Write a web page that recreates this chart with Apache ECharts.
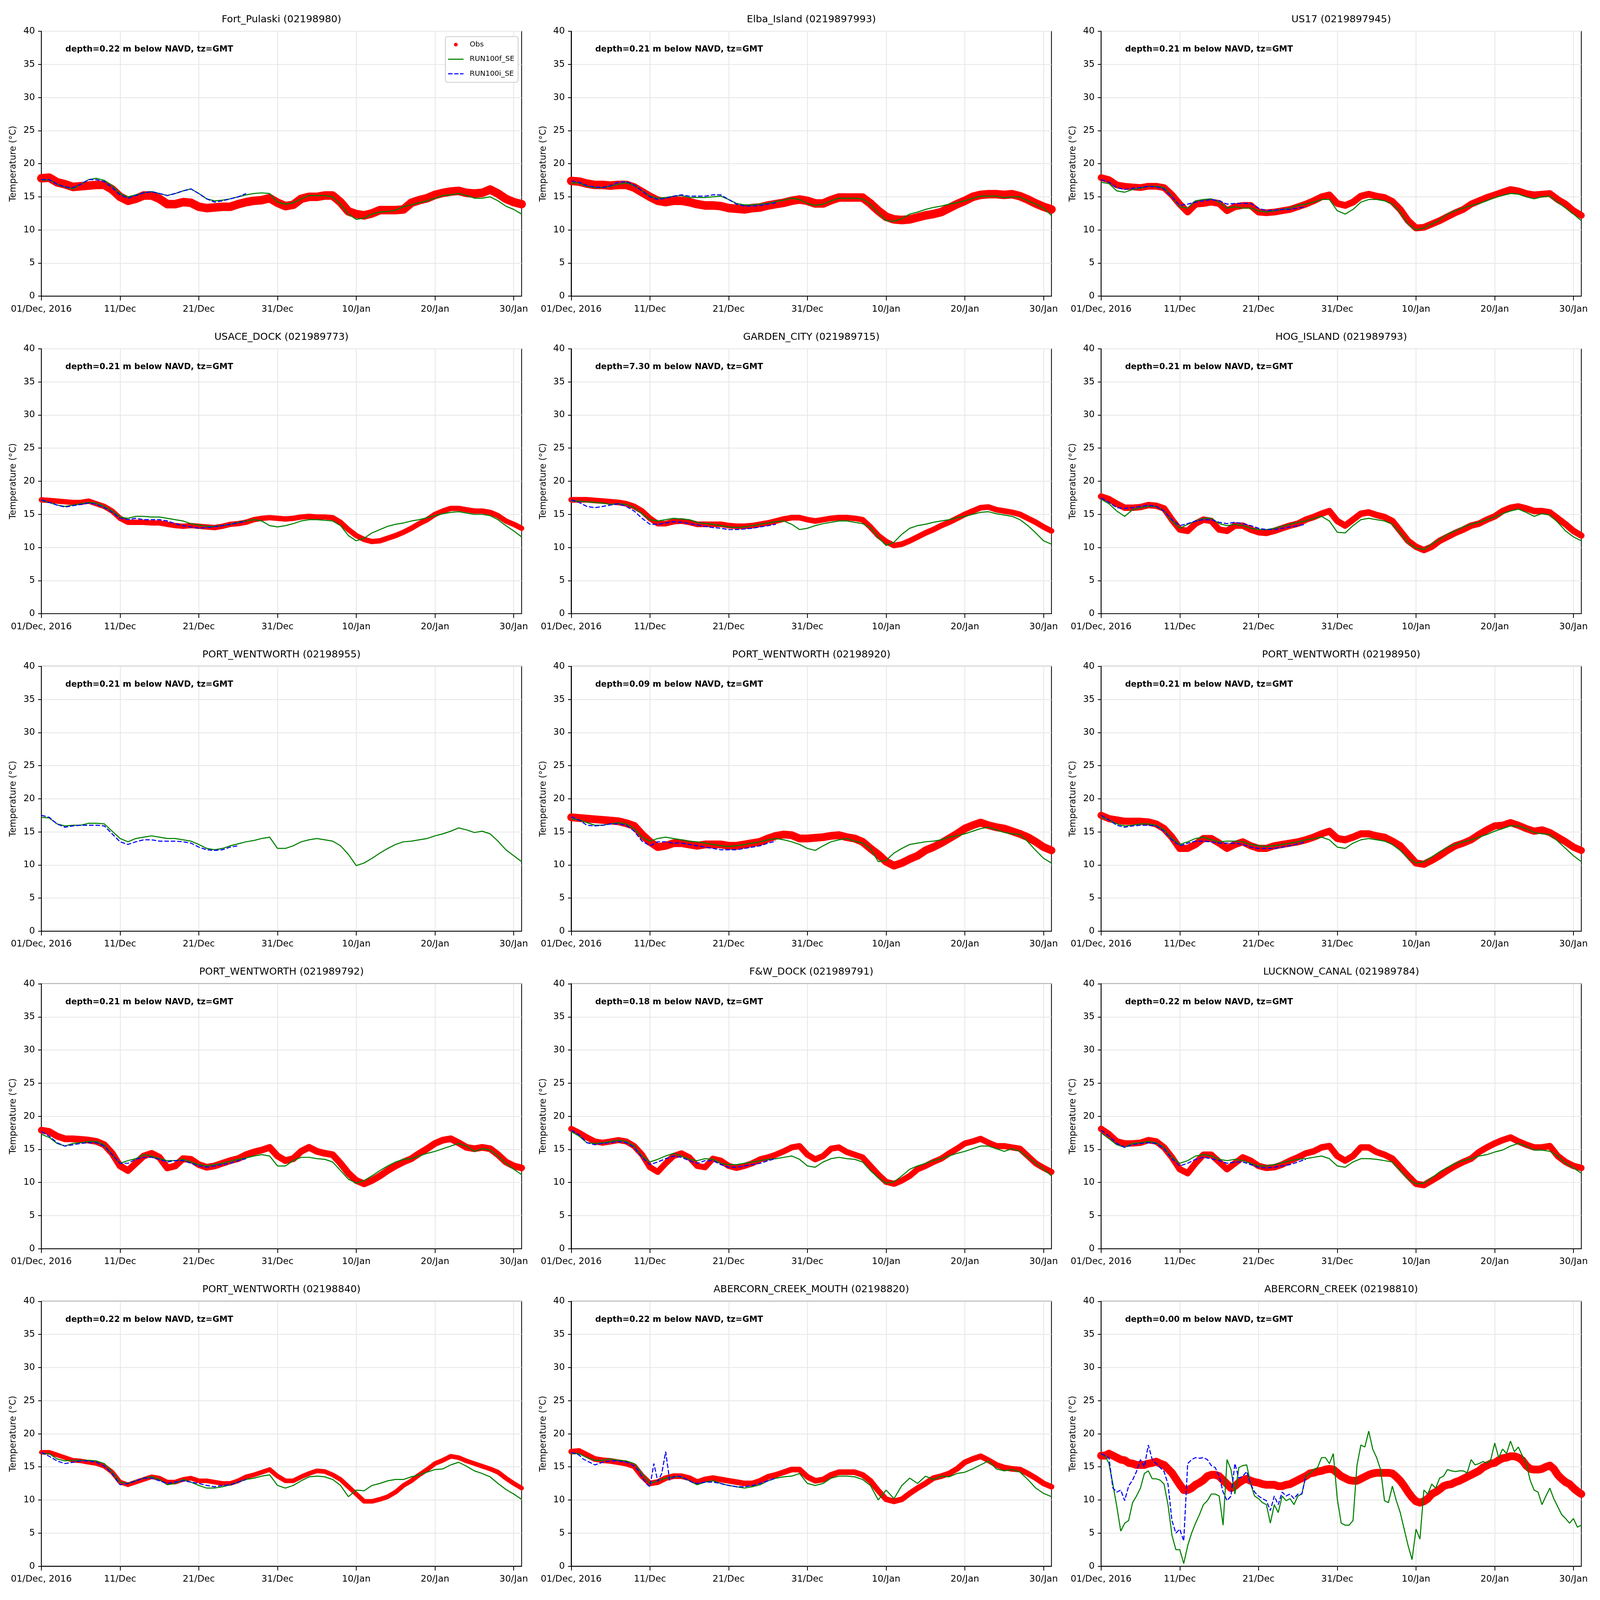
<!DOCTYPE html>
<html><head><meta charset="utf-8">
<script src="https://cdn.jsdelivr.net/npm/echarts@6/dist/echarts.min.js"></script>
<style>html,body{margin:0;padding:0;background:#fff;overflow:hidden}#chart{width:100vw;height:100vh}</style>
</head><body><div id="chart"></div>
<script>
// ---------- axis ticks / labels ----------
const xTickDays = [0, 10, 20, 30, 40, 50, 60];
const xTickLabels = ['01/Dec, 2016', '11/Dec', '21/Dec', '31/Dec', '10/Jan', '20/Jan', '30/Jan'];
const seriesNames = ['Obs', 'RUN100f_SE', 'RUN100i_SE'];

const panelTitles = [
  'Fort_Pulaski (02198980)', 'Elba_Island (0219897993)', 'US17 (0219897945)',
  'USACE_DOCK (021989773)', 'GARDEN_CITY (021989715)', 'HOG_ISLAND (021989793)',
  'PORT_WENTWORTH (02198955)', 'PORT_WENTWORTH (02198920)', 'PORT_WENTWORTH (02198950)',
  'PORT_WENTWORTH (021989792)', 'F&W_DOCK (021989791)', 'LUCKNOW_CANAL (021989784)',
  'PORT_WENTWORTH (02198840)', 'ABERCORN_CREEK_MOUTH (02198820)', 'ABERCORN_CREEK (02198810)'
];
const depthLabels = ['0.22','0.21','0.21','0.21','7.30','0.21','0.21','0.09','0.21','0.21','0.18','0.22','0.22','0.22','0.00'];

// ---------- data (temperature, deg C); daily samples from 01/Dec 00:00 unless noted ----------
const p01_obs = [17.8,17.9,17.2,16.9,16.5,16.6,16.7,16.8,16.8,16.1,15.0,14.4,14.7,15.2,15.2,14.7,13.9,13.9,14.2,14.1,13.5,13.3,13.4,13.5,13.5,13.9,14.2,14.4,14.5,14.8,14.1,13.6,13.8,14.7,15.0,15.0,15.2,15.2,14.2,12.8,12.4,12.2,12.5,13.0,13.0,13.0,13.1,14.1,14.5,14.8,15.3,15.6,15.8,15.9,15.6,15.5,15.6,16.1,15.5,14.7,14.2,13.9];
const p01_f = [17.5,17.6,16.9,16.5,16.2,16.9,17.6,17.8,17.5,16.7,15.5,15.0,15.3,15.6,15.8,15.5,15.2,15.5,15.9,16.2,15.5,14.7,14.4,14.5,14.7,15.0,15.3,15.5,15.6,15.5,14.2,13.9,14.1,14.7,15.2,15.2,15.2,15.0,13.9,12.4,11.6,11.8,12.4,12.7,12.8,13.0,13.5,13.8,14.1,14.4,14.8,15.2,15.3,15.5,15.2,14.8,14.8,15.0,14.4,13.6,13.1,12.4];
const p01_i = [17.6,17.6,16.9,16.5,16.4,16.9,17.6,17.6,17.3,16.4,15.3,14.8,15.2,15.6,15.8,15.5,15.2,15.5,15.9,16.2,15.5,14.7,14.2,14.4,14.7,15.0,15.5];

const p02_obs = [17.4,17.3,17.0,16.8,16.8,16.7,16.8,16.8,16.4,15.7,15.0,14.4,14.2,14.4,14.4,14.2,13.9,13.7,13.7,13.6,13.3,13.2,13.1,13.3,13.4,13.7,13.9,14.1,14.4,14.6,14.4,14.0,14.0,14.5,14.9,14.9,14.9,14.9,14.0,12.9,12.0,11.6,11.5,11.6,11.9,12.2,12.4,12.7,13.3,13.9,14.4,15.0,15.3,15.4,15.4,15.3,15.4,15.1,14.6,14.0,13.5,13.1];
const p02_f = [17.1,17.1,16.6,16.4,16.4,16.6,16.9,17.1,16.7,15.9,15.1,14.8,14.9,15.1,15.2,14.9,14.9,14.9,15.0,15.1,14.6,14.0,13.8,13.8,13.9,14.0,14.3,14.5,14.8,14.6,14.0,13.7,13.9,14.4,14.8,14.8,14.8,14.7,13.9,12.6,11.4,11.3,11.7,12.4,12.7,13.1,13.4,13.6,13.9,14.1,14.4,14.8,15.1,15.1,15.1,14.9,15.0,15.0,14.4,13.9,13.3,12.2];
const p02_i = [17.4,17.2,16.7,16.5,16.4,16.7,17.2,17.3,16.8,15.9,15.0,14.6,14.8,15.1,15.3,15.1,15.1,15.1,15.3,15.3,14.6,13.9,13.6,13.6,13.7,13.9,14.1];

const p03_obs = [17.9,17.6,16.8,16.6,16.5,16.4,16.6,16.6,16.4,15.3,13.9,12.7,13.9,14.0,14.2,14.0,12.9,13.5,13.7,13.7,12.7,12.6,12.7,12.9,13.1,13.5,13.9,14.4,15.0,15.3,14.0,13.7,14.2,15.1,15.4,15.1,14.9,14.3,13.1,11.4,10.3,10.4,10.9,11.4,12.0,12.6,13.1,13.9,14.4,14.9,15.3,15.7,16.1,15.9,15.5,15.3,15.4,15.5,14.6,13.9,12.9,12.2];
const p03_f = [17.2,17.0,15.9,15.7,16.1,16.3,16.6,16.6,16.4,15.1,13.5,13.3,14.4,14.6,14.7,14.2,13.3,13.5,13.3,13.3,12.9,12.7,12.9,13.1,13.3,13.7,13.9,14.2,14.6,14.6,12.9,12.4,13.1,14.2,14.6,14.6,14.4,13.9,12.7,10.9,10.0,10.3,10.9,11.5,12.4,12.9,13.3,13.7,14.0,14.4,14.9,15.2,15.5,15.4,15.0,14.7,15.0,15.1,14.2,13.3,12.4,11.4];
const p03_i = [17.6,17.2,16.4,16.1,16.3,16.4,16.6,16.5,16.2,15.0,13.7,13.9,14.2,14.4,14.6,14.4,13.9,14.0,14.0,14.0,13.3,12.9,13.0,13.1,13.1,13.3,13.5];

const p04_obs = [17.2,17.1,17.0,16.9,16.8,16.8,17.0,16.6,16.2,15.5,14.4,13.8,13.8,13.8,13.7,13.7,13.5,13.3,13.2,13.3,13.2,13.1,13.0,13.2,13.5,13.6,13.8,14.2,14.4,14.5,14.4,14.3,14.4,14.6,14.7,14.6,14.6,14.5,13.8,12.7,11.8,11.2,10.9,11.0,11.4,11.8,12.3,12.9,13.6,14.2,15.0,15.5,15.9,15.9,15.7,15.5,15.5,15.3,14.8,14.0,13.5,12.9];
const p04_f = [17.1,16.8,16.4,16.2,16.4,16.6,16.8,16.7,16.2,15.5,14.6,14.4,14.7,14.7,14.6,14.6,14.4,14.2,14.0,13.6,13.4,13.2,13.2,13.3,13.5,13.8,14.0,14.2,14.0,13.3,13.1,13.3,13.6,14.0,14.2,14.2,14.1,14.0,13.3,11.8,11.0,11.4,12.2,12.7,13.2,13.5,13.7,14.0,14.2,14.5,14.8,15.1,15.3,15.4,15.2,15.0,15.0,14.8,14.2,13.3,12.5,11.6];
const p04_i = [17.2,16.8,16.4,16.1,16.3,16.5,16.7,16.5,16.0,15.3,14.4,14.2,14.4,14.2,14.2,14.2,14.0,13.6,13.3,13.1,12.9,13.0,13.1,13.3,13.5,13.7,14.0];

const p05_obs = [17.2,17.2,17.2,17.1,17.0,16.9,16.8,16.6,16.2,15.5,14.4,13.6,13.6,13.9,14.0,13.8,13.5,13.5,13.5,13.5,13.3,13.2,13.2,13.3,13.5,13.7,14.0,14.3,14.5,14.5,14.2,14.0,14.2,14.4,14.5,14.5,14.4,14.2,13.1,11.8,10.9,10.3,10.5,11.0,11.6,12.2,12.7,13.3,13.8,14.4,15.0,15.5,16.0,16.1,15.7,15.5,15.3,15.0,14.4,13.8,13.1,12.5];
const p05_f = [17.0,17.0,16.9,16.8,16.7,16.5,16.6,16.5,16.0,15.1,14.2,14.0,14.2,14.4,14.3,14.2,13.8,13.6,13.5,13.3,13.1,13.0,13.1,13.3,13.5,13.7,13.9,14.0,13.5,12.7,12.9,13.3,13.6,13.8,14.0,14.0,13.8,13.6,13.0,11.5,10.3,10.8,12.0,12.9,13.3,13.5,13.8,14.0,14.2,14.5,14.7,15.0,15.3,15.4,15.1,14.9,14.7,14.2,13.3,12.2,11.0,10.5];
const p05_i = [17.2,16.8,16.2,16.0,16.2,16.4,16.6,16.2,15.5,14.4,13.5,13.5,13.7,13.9,13.8,13.6,13.4,13.2,13.0,12.9,12.7,12.7,12.8,12.9,13.1,13.3,13.5];

const p06_obs = [17.7,17.3,16.6,16.0,16.0,16.1,16.4,16.3,15.9,14.2,12.7,12.5,13.6,14.2,14.0,12.7,12.5,13.3,13.3,12.7,12.3,12.2,12.5,12.9,13.3,13.6,14.2,14.6,15.1,15.5,14.0,13.3,14.2,15.1,15.3,14.9,14.6,14.0,12.5,11.0,10.1,9.6,10.1,11.0,11.6,12.2,12.7,13.3,13.6,14.2,14.7,15.5,16.0,16.2,15.9,15.5,15.5,15.3,14.4,13.5,12.5,11.8];
const p06_f = [17.3,16.6,15.5,14.7,15.7,16.0,16.2,16.2,15.5,14.0,12.9,13.5,14.0,14.4,14.4,13.6,13.3,13.5,13.3,12.9,12.7,12.7,12.9,13.2,13.5,13.8,14.0,14.4,14.7,14.0,12.3,12.2,13.3,14.2,14.4,14.2,14.0,13.5,12.2,10.7,9.9,9.7,10.5,11.2,12.0,12.5,13.1,13.5,13.8,14.2,14.6,15.1,15.5,15.8,15.3,14.7,15.1,14.9,13.8,12.5,11.6,11.0];
const p06_i = [17.5,16.8,16.0,15.9,16.0,16.2,16.4,16.2,15.5,14.2,13.3,13.6,14.0,14.2,14.2,13.8,13.6,13.8,13.6,13.3,12.9,12.7,12.7,12.9,13.1,13.3,13.5];

const p07_obs = null; // no observations at this station
const p07_f = [17.2,17.1,16.2,15.9,16.0,16.0,16.3,16.3,16.2,15.1,14.0,13.5,14.0,14.2,14.4,14.2,14.0,14.0,13.8,13.6,13.1,12.5,12.3,12.5,12.9,13.2,13.5,13.7,14.0,14.2,12.5,12.5,12.9,13.5,13.8,14.0,13.8,13.6,12.9,11.6,9.9,10.3,11.0,11.8,12.5,13.1,13.5,13.6,13.8,14.0,14.4,14.7,15.1,15.6,15.3,14.9,15.1,14.7,13.6,12.3,11.4,10.5];
const p07_i = [17.5,17.2,16.2,15.7,15.9,16.0,16.0,16.0,15.9,14.7,13.5,13.1,13.5,13.8,13.8,13.6,13.6,13.6,13.5,13.3,12.7,12.3,12.2,12.3,12.7,12.9];

const p08_obs = [17.2,17.1,17.0,16.9,16.8,16.7,16.6,16.3,15.9,14.6,13.5,12.7,12.9,13.3,13.3,13.1,12.9,13.1,13.1,13.1,12.9,12.9,13.1,13.3,13.5,14.0,14.4,14.6,14.5,14.0,14.0,14.1,14.2,14.4,14.5,14.2,14.0,13.5,12.5,11.6,10.5,9.9,10.3,10.9,11.4,12.2,12.7,13.3,14.0,14.7,15.5,16.0,16.4,16.0,15.7,15.5,15.1,14.7,14.2,13.5,12.7,12.2];
const p08_f = [17.0,16.8,16.4,16.0,16.0,16.2,16.4,16.2,15.5,14.2,13.6,14.0,14.2,14.0,13.8,13.6,13.5,13.3,13.1,12.9,12.8,12.9,13.1,13.3,13.5,13.8,14.0,13.8,13.5,13.1,12.5,12.2,12.9,13.5,13.8,14.0,13.6,13.3,12.5,10.5,10.7,11.8,12.5,13.1,13.3,13.5,13.6,13.8,14.2,14.4,14.7,15.1,15.5,15.7,15.3,14.9,14.7,14.6,13.5,12.2,11.0,10.3];
const p08_i = [17.3,16.8,16.0,15.9,16.0,16.2,16.2,16.0,15.1,13.6,12.9,13.5,13.5,13.3,13.3,13.1,12.9,12.7,12.5,12.3,12.3,12.3,12.5,12.7,12.9,13.3,13.6];

const p09_obs = [17.5,17.0,16.8,16.6,16.6,16.6,16.5,16.2,15.5,14.2,12.5,12.5,13.1,14.0,14.0,13.3,12.5,13.1,13.5,12.9,12.5,12.5,12.9,13.1,13.3,13.5,13.8,14.2,14.7,15.1,14.0,13.8,14.2,14.7,14.7,14.4,14.2,13.6,12.9,11.6,10.3,10.1,10.7,11.4,12.2,12.9,13.3,13.8,14.6,15.3,15.9,16.0,16.4,16.0,15.5,15.1,15.3,14.9,14.2,13.5,12.7,12.2];
const p09_f = [17.2,16.8,16.2,15.9,16.0,16.2,16.2,16.0,15.3,14.0,13.1,13.5,14.0,14.2,13.8,13.5,13.6,13.6,13.5,13.1,12.9,12.8,12.9,13.1,13.3,13.5,13.8,14.0,14.2,13.8,12.7,12.5,13.3,13.8,14.0,13.8,13.6,13.1,12.2,11.0,10.3,10.5,11.2,12.0,12.7,13.1,13.5,13.8,14.2,14.6,15.1,15.5,15.9,15.9,15.5,14.9,14.7,14.6,13.6,12.5,11.4,10.5];
const p09_i = [17.5,16.8,16.0,15.7,15.9,16.0,16.0,15.9,15.1,13.8,12.9,13.3,13.6,13.6,13.5,13.3,13.3,13.3,13.1,12.7,12.5,12.5,12.5,12.7,12.9,13.2,13.5];

const p10_obs = [17.9,17.7,17.0,16.6,16.6,16.5,16.4,16.2,15.7,14.4,12.5,11.8,12.9,14.0,14.4,13.8,12.2,12.5,13.6,13.5,12.7,12.3,12.5,12.9,13.3,13.6,14.2,14.6,14.9,15.3,14.0,13.3,13.6,14.7,15.3,14.7,14.4,14.2,12.9,11.4,10.3,9.8,10.3,11.0,11.8,12.5,13.1,13.6,14.4,15.1,15.9,16.4,16.6,16.0,15.3,15.1,15.3,15.1,14.2,13.1,12.5,12.2];
const p10_f = [17.3,16.8,15.9,15.5,15.9,16.0,16.2,16.2,15.7,14.2,12.9,13.3,13.6,14.2,14.0,13.6,13.3,13.3,13.5,13.1,12.7,12.5,12.7,12.9,13.2,13.5,13.7,14.0,14.2,14.0,12.5,12.5,13.3,13.8,13.8,13.6,13.5,13.1,11.8,10.5,9.9,10.3,11.0,11.8,12.5,13.1,13.5,13.6,14.0,14.4,14.7,15.1,15.5,15.9,15.5,14.7,15.1,14.9,14.0,12.9,12.0,11.2];
const p10_i = [17.7,17.0,16.0,15.5,15.7,15.9,16.0,16.0,15.5,14.2,12.9,12.9,13.5,13.8,13.8,13.5,13.1,13.3,13.3,12.9,12.5,12.3,12.5,12.7,12.9,13.3,13.6];

const p11_obs = [18.1,17.5,16.8,16.2,16.0,16.2,16.4,16.2,15.5,14.2,12.3,11.6,12.9,14.0,14.4,13.8,12.5,12.3,13.6,13.3,12.5,12.2,12.5,12.9,13.5,13.8,14.2,14.7,15.3,15.5,14.2,13.5,14.0,15.1,15.3,14.6,14.2,13.8,12.5,11.2,10.1,9.8,10.3,11.0,12.0,12.5,13.1,13.6,14.4,15.1,15.9,16.2,16.6,16.0,15.5,15.5,15.3,15.1,14.0,12.9,12.2,11.6];
const p11_f = [17.7,17.0,16.0,15.9,16.0,16.2,16.4,16.2,15.5,14.0,13.1,13.5,14.0,14.4,14.0,13.5,13.3,13.6,13.5,12.9,12.7,12.7,12.9,13.1,13.3,13.5,13.6,13.8,14.0,13.5,12.5,12.3,13.1,13.6,13.8,13.6,13.5,13.1,11.8,10.7,9.9,10.1,11.0,12.0,12.5,12.9,13.3,13.6,14.0,14.4,14.7,15.1,15.5,15.5,15.1,14.7,15.1,14.7,13.8,12.9,12.0,11.0];
const p11_i = [17.9,17.2,16.0,15.7,15.9,16.0,16.2,16.0,15.3,13.8,12.7,13.1,13.6,14.0,13.8,13.3,12.9,13.3,13.3,12.7,12.3,12.3,12.5,12.7,12.9,13.3,13.6];

const p12_obs = [18.1,17.3,16.2,15.9,15.9,16.0,16.4,16.2,15.3,13.8,12.0,11.4,12.9,14.2,14.2,13.1,12.0,12.9,13.8,13.3,12.5,12.2,12.3,12.7,13.3,13.8,14.4,14.7,15.3,15.5,14.0,13.3,14.0,15.3,15.3,14.6,14.2,13.6,12.3,11.0,9.8,9.6,10.3,11.0,11.8,12.5,13.1,13.6,14.6,15.3,15.9,16.4,16.8,16.2,15.7,15.3,15.3,15.5,14.0,13.1,12.5,12.2];
const p12_f = [17.5,16.6,15.7,15.3,15.9,16.0,16.2,16.0,15.3,13.8,12.9,13.3,14.0,14.2,14.0,13.5,13.3,13.5,13.3,12.9,12.5,12.5,12.7,13.0,13.3,13.5,13.6,13.8,14.0,13.6,12.5,12.3,13.1,13.6,13.6,13.5,13.3,13.1,11.8,10.5,9.8,9.9,10.7,11.6,12.3,12.9,13.3,13.6,14.0,14.2,14.6,14.9,15.5,15.9,15.5,14.9,14.9,14.7,14.0,12.9,12.2,11.4];
const p12_i = [17.9,17.0,15.9,15.3,15.7,15.9,16.0,15.9,15.1,13.6,12.5,12.9,13.5,13.8,13.6,13.3,12.9,13.1,13.1,12.7,12.3,12.2,12.3,12.5,12.7,13.1,13.5];

const p13_obs = [17.2,17.2,16.8,16.4,16.0,15.9,15.7,15.5,15.1,14.2,12.7,12.3,12.7,13.1,13.5,13.3,12.7,12.7,13.1,13.3,12.9,12.9,12.7,12.5,12.5,12.9,13.5,13.8,14.2,14.6,13.6,12.9,12.9,13.5,14.0,14.4,14.3,13.8,13.1,12.0,10.9,9.8,9.8,10.1,10.5,11.2,12.2,12.9,13.8,14.6,15.5,16.0,16.6,16.4,15.9,15.5,15.1,14.7,14.2,13.3,12.5,11.8];
const p13_f = [17.0,17.0,16.2,15.9,16.0,16.0,16.0,15.9,15.5,14.2,12.7,12.5,12.9,13.3,13.5,13.1,12.3,12.5,13.1,12.7,12.2,11.8,11.8,12.0,12.3,12.7,13.1,13.3,13.6,13.8,12.2,11.8,12.2,12.9,13.5,13.6,13.5,13.1,12.2,10.5,11.5,11.4,12.2,12.5,12.9,13.1,13.1,13.5,13.8,14.2,14.6,14.7,15.3,15.7,15.1,14.4,14.0,13.5,12.5,11.6,10.9,10.1];
const p13_i = [17.2,16.6,15.9,15.5,15.7,15.9,15.9,15.7,15.1,14.0,12.3,12.5,12.9,13.3,13.3,12.9,12.5,12.7,12.9,12.7,12.5,12.2,12.0,12.2,12.3,12.7,13.1];

const p14_obs = [17.3,17.4,16.8,16.2,16.0,15.9,15.7,15.5,15.1,13.6,12.5,12.7,13.3,13.6,13.6,13.3,12.7,13.1,13.3,13.1,12.9,12.7,12.5,12.5,12.9,13.5,13.8,14.2,14.6,14.6,13.5,12.9,13.1,13.8,14.2,14.2,14.2,13.8,12.9,11.4,10.1,9.8,10.1,11.0,11.8,12.5,13.3,13.6,14.0,14.7,15.7,16.2,16.6,16.0,15.3,14.9,14.7,14.6,14.0,13.3,12.5,12.0];
const p14_f = [17.0,17.0,16.4,16.0,16.0,16.2,16.0,15.9,15.5,14.0,12.5,12.9,13.3,13.5,13.5,12.9,12.3,12.7,12.9,12.5,12.2,12.0,11.8,12.0,12.3,12.9,13.3,13.5,13.6,14.0,12.5,12.2,12.5,13.3,13.6,13.6,13.5,13.1,12.2,10.0,11.5,10.2,12.2,13.3,12.5,13.6,13.1,13.6,13.5,14.0,14.2,14.7,15.3,15.9,14.7,14.4,14.6,14.2,13.1,11.8,11.0,10.5];
// half-day samples
const p14_i = [17.2,17.0,16.8,16.2,15.9,15.6,15.3,15.5,15.7,15.8,15.9,15.9,15.9,15.8,15.7,15.5,15.1,14.5,13.5,12.5,12.0,15.5,12.8,14.0,17.3,13.0,13.5,13.6,13.5,13.2,12.9,12.6,12.5,12.6,12.7,12.7,12.7,12.6,12.5,12.3,12.2,12.1,12.0,12.0,12.0,12.1,12.2,12.3,12.5,12.7,12.9,13.1,13.3];

// half-day samples
const p15_obs = [16.7,16.7,17.0,16.7,16.4,16.1,16.0,15.6,15.5,15.3,15.3,15.3,15.5,15.6,15.8,15.5,15.3,14.7,14.1,13.2,12.3,11.5,11.5,11.8,12.3,12.6,13.0,13.6,13.8,13.8,13.6,13.0,12.4,11.8,12.1,12.6,13.0,13.2,12.9,12.7,12.6,12.4,12.3,12.3,12.3,12.1,12.1,12.3,12.4,12.7,13.0,13.3,13.6,14.0,14.1,14.3,14.4,14.6,14.7,14.6,14.1,13.6,13.3,13.0,12.9,12.9,13.2,13.5,13.8,14.0,14.1,14.1,14.1,14.1,14.0,13.5,12.9,12.1,11.2,10.4,9.8,9.6,9.8,10.2,10.9,11.2,11.6,12.1,12.3,12.4,12.7,12.9,13.2,13.5,13.8,14.1,14.4,14.9,15.2,15.5,15.6,16.0,16.3,16.4,16.6,16.6,16.4,16.0,15.2,14.7,14.6,14.6,14.7,15.0,15.2,14.7,13.8,13.2,12.7,12.4,11.8,11.3,10.9];
const p15_f = [16.9,16.7,15.5,12.4,9.0,5.3,6.5,6.9,9.6,10.6,11.8,14.0,14.4,13.2,13.2,13.0,12.4,9.3,4.7,2.5,2.5,0.4,3.1,5.0,6.5,7.8,9.3,9.9,10.9,10.9,10.6,6.2,16.1,14.6,10.9,14.9,15.2,15.3,12.4,10.6,10.2,9.6,9.3,6.5,9.3,8.1,10.6,9.9,10.2,9.3,10.6,10.9,13.6,14.0,14.6,14.9,16.4,16.4,15.5,17.0,10.2,6.5,6.2,6.2,6.9,15.2,18.3,18.0,20.4,17.7,16.4,14.6,9.9,9.6,12.1,9.9,8.1,5.6,3.1,1.0,5.6,4.1,11.5,10.9,12.4,11.8,13.3,13.6,14.6,14.4,14.3,14.4,14.4,14.1,16.1,15.3,15.5,15.8,15.6,16.1,18.6,16.4,17.7,17.0,18.9,17.3,18.0,16.7,15.5,13.0,11.5,11.2,9.3,10.6,11.8,10.2,9.0,7.8,7.2,6.5,7.2,5.9,6.2];
const p15_i = [17.0,16.7,16.4,11.8,11.2,11.5,9.9,12.1,13.0,14.3,16.1,15.0,18.3,16.1,15.5,14.9,14.3,12.4,6.9,5.0,5.6,3.8,15.5,16.1,16.4,16.3,16.4,16.1,15.2,14.9,13.6,11.2,9.9,10.6,15.5,13.3,13.6,14.3,12.4,11.2,10.6,10.2,9.9,8.4,10.6,9.3,11.2,10.6,10.9,10.2,10.9,10.9,13.6];

// sampling step (days) per panel: [obs, RUN100f_SE, RUN100i_SE]
const panels = [
  {obs:p01_obs, f:p01_f, i:p01_i, step:[1,1,1]},
  {obs:p02_obs, f:p02_f, i:p02_i, step:[1,1,1]},
  {obs:p03_obs, f:p03_f, i:p03_i, step:[1,1,1]},
  {obs:p04_obs, f:p04_f, i:p04_i, step:[1,1,1]},
  {obs:p05_obs, f:p05_f, i:p05_i, step:[1,1,1]},
  {obs:p06_obs, f:p06_f, i:p06_i, step:[1,1,1]},
  {obs:p07_obs, f:p07_f, i:p07_i, step:[1,1,1]},
  {obs:p08_obs, f:p08_f, i:p08_i, step:[1,1,1]},
  {obs:p09_obs, f:p09_f, i:p09_i, step:[1,1,1]},
  {obs:p10_obs, f:p10_f, i:p10_i, step:[1,1,1]},
  {obs:p11_obs, f:p11_f, i:p11_i, step:[1,1,1]},
  {obs:p12_obs, f:p12_f, i:p12_i, step:[1,1,1]},
  {obs:p13_obs, f:p13_f, i:p13_i, step:[1,1,1]},
  {obs:p14_obs, f:p14_f, i:p14_i, step:[1,1,0.5]},
  {obs:p15_obs, f:p15_f, i:p15_i, step:[0.5,0.5,0.5]}
];

// ---------- styling / layout (not data) ----------
const FONT = 'DejaVu Sans';
// drawn thickness of the dense observation band in each panel (design px)
const obsBandWidth = [24, 24, 19, 15, 16, 18, 0, 22, 20, 19, 17, 18, 13, 16, 22];

// layout is designed on a 6000 x 4500 canvas and scaled to the real window
const VW = window.innerWidth || document.documentElement.clientWidth || 6000;
const VH = window.innerHeight || document.documentElement.clientHeight || 4500;
const SX = VW / 6000, SY = VH / 4500, SF = Math.min(SX, SY);
const X = v => v * SX, Y = v => v * SY, F = v => v * SF;

const toXY = (vals, step) => vals.map((v, k) => [k * step, v]);

const dom = document.getElementById('chart');
dom.style.width = VW + 'px';
dom.style.height = VH + 'px';
const chart = echarts.init(dom, null, {renderer: 'canvas', width: VW, height: VH});
const grids = [], xAxes = [], yAxes = [], series = [], titles = [];

panels.forEach((p, k) => {
  const col = k % 3, row = Math.floor(k / 3);
  const left = 155 + 1987 * col, top = 88 + 893 * row, W = 1801, H = 745;
  grids.push({left: X(left), top: Y(top), width: X(W), height: Y(H), show: true,
    borderColor: '#000', borderWidth: F(3), backgroundColor: 'transparent'});
  xAxes.push({
    type: 'value', gridIndex: k, min: 0, max: 61, interval: 10,
    axisLine: {show: true, onZero: false, lineStyle: {color: '#000', width: F(3)}},
    axisTick: {show: true, length: Y(12), lineStyle: {color: '#000', width: F(3)}, customValues: xTickDays},
    axisLabel: {customValues: xTickDays, fontSize: F(34), color: '#000', fontFamily: FONT, margin: Y(37) - F(17),
      formatter: function (v) { const j = xTickDays.indexOf(Math.round(v)); return j >= 0 ? xTickLabels[j] : ''; }},
    splitLine: {show: true, lineStyle: {color: '#e6e6e6', width: F(3)}}
  });
  yAxes.push({
    type: 'value', gridIndex: k, min: 0, max: 40, interval: 5,
    name: 'Temperature (°C)', nameLocation: 'middle', nameGap: X(104) - F(16.5), nameRotate: 90,
    nameTextStyle: {fontSize: F(33), color: '#000', fontFamily: FONT},
    axisLine: {show: true, lineStyle: {color: '#000', width: F(3)}},
    axisTick: {show: true, length: X(12), lineStyle: {color: '#000', width: F(3)}},
    axisLabel: {fontSize: F(34), color: '#000', fontFamily: FONT, margin: X(24)},
    splitLine: {show: true, lineStyle: {color: '#e6e6e6', width: F(3)}}
  });
  titles.push({text: panelTitles[k], left: X(left + W / 2), top: Y(top - 32.5) - F(18.5), textAlign: 'center', padding: 0,
    textStyle: {fontSize: F(37), fontWeight: 'normal', color: '#000', fontFamily: FONT}});
  titles.push({text: 'depth=' + depthLabels[k] + ' m below NAVD, tz=GMT', left: X(left + 90), top: Y(top + 51.5) - F(15.5), padding: 0,
    textStyle: {fontSize: F(31), fontWeight: 'bold', color: '#000', fontFamily: FONT}});

  if (p.obs) {
    series.push({type: 'line', name: seriesNames[0], xAxisIndex: k, yAxisIndex: k, data: toXY(p.obs, p.step[0]),
      symbol: 'none', showSymbol: false, silent: true, z: 2, itemStyle: {color: '#ff0000'},
      lineStyle: {color: '#ff0000', width: Y(obsBandWidth[k]), cap: 'round', join: 'round'}});
  }
  series.push({type: 'line', name: seriesNames[1], xAxisIndex: k, yAxisIndex: k, data: toXY(p.f, p.step[1]),
    symbol: 'none', showSymbol: false, silent: true, z: 3, itemStyle: {color: '#008000'},
    lineStyle: {color: '#008000', width: F(4)}});
  series.push({type: 'line', name: seriesNames[2], xAxisIndex: k, yAxisIndex: k, data: toXY(p.i, p.step[2]),
    symbol: 'none', showSymbol: false, silent: true, z: 4, itemStyle: {color: '#0000ff'},
    lineStyle: {color: '#0000ff', width: F(4), type: [X(17), X(7)]}});
});

chart.setOption({
  animation: false,
  backgroundColor: '#ffffff',
  textStyle: {fontFamily: FONT},
  title: titles,
  grid: grids,
  xAxis: xAxes,
  yAxis: yAxes,
  legend: {
    right: VW - X(1943), top: Y(103), orient: 'vertical', selectedMode: false,
    padding: [F(10), F(14), F(12), F(10)], itemGap: Y(11), itemWidth: F(58), itemHeight: F(14), symbolKeepAspect: true,
    borderColor: '#cccccc', borderWidth: F(3), borderRadius: F(8), backgroundColor: '#ffffff',
    textStyle: {fontSize: F(27), color: '#000', fontFamily: FONT, lineHeight: Y(30), padding: [0, 0, 0, F(16)]},
    data: [
      {name: 'Obs', icon: 'circle'},
      {name: 'RUN100f_SE', icon: 'path://M0,0h58v4h-58z'},
      {name: 'RUN100i_SE', icon: 'path://M0,0h17v4h-17zM23,0h16v4h-16zM45,0h13v4h-13z'}
    ]
  },
  series: series
});
</script>
</body></html>
